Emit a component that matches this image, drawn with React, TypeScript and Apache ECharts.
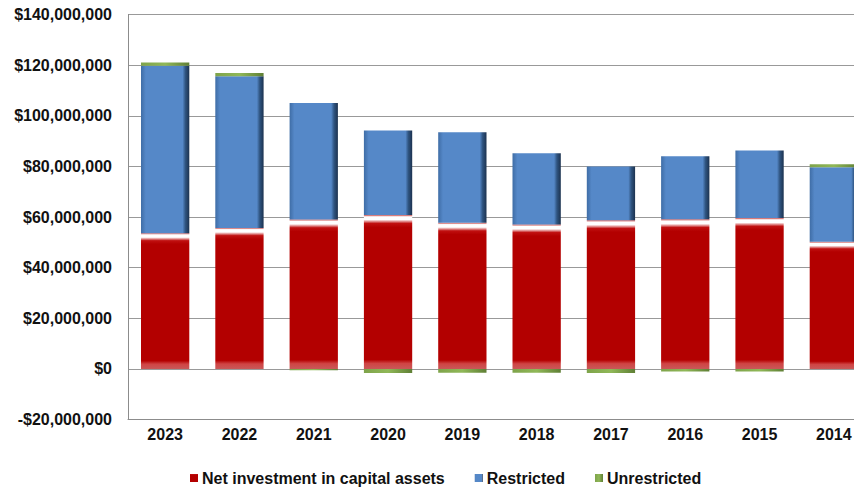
import React, { useEffect, useRef } from "react";
import * as echarts from "echarts";

const categories = ["2023", "2022", "2021", "2020", "2019", "2018", "2017", "2016", "2015", "2014"];
const netInvestment = [53600000, 55700000, 59000000, 60800000, 57700000, 57000000, 58700000, 59100000, 59600000, 50200000];
const restricted = [66200000, 59900000, 46000000, 33400000, 35800000, 28200000, 21300000, 24900000, 26700000, 29500000];
const unrestricted = [1200000, 1300000, -500000, -1600000, -1500000, -1500000, -1600000, -1000000, -1000000, 1100000];
const yMin = -20000000;
const yMax = 140000000;
const yStep = 20000000;

function fmtMoney(v: number): string {
  const abs = Math.abs(v).toString().replace(/\B(?=(\d{3})+(?!\d))/g, ",");
  return (v < 0 ? "-$" : "$") + abs;
}

const FONT = "'Liberation Sans', Arial, sans-serif";

export default function App() {
  const ref = useRef<HTMLDivElement>(null);
  useEffect(() => {
    document.body.style.margin = "0";
    if (!ref.current) return;
    const chart = echarts.init(ref.current, undefined, { renderer: "svg" });
    const redFill = new echarts.graphic.LinearGradient(0, 0, 0, 1, [
      { offset: 0, color: "#c94a4a" },
      { offset: 0.012, color: "#ffffff" },
      { offset: 0.03, color: "#ffffff" },
      { offset: 0.055, color: "#c01010" },
      { offset: 0.08, color: "#b30000" },
      { offset: 0.94, color: "#b30000" },
      { offset: 0.965, color: "#d04444" },
      { offset: 1, color: "#c85858" },
    ]);
    const blueFill = new echarts.graphic.LinearGradient(0, 0, 1, 0, [
      { offset: 0, color: "#3f6da6" },
      { offset: 0.1, color: "#5588c8" },
      { offset: 0.86, color: "#5588c8" },
      { offset: 0.92, color: "#2f5480" },
      { offset: 1, color: "#1c324f" },
    ]);
    const greenFill = new echarts.graphic.LinearGradient(0, 0, 1, 0, [
      { offset: 0, color: "#7ea34a" },
      { offset: 0.5, color: "#90b858" },
      { offset: 1, color: "#5f7f35" },
    ]);
    chart.setOption({
      animation: false,
      backgroundColor: "#ffffff",
      grid: {
        left: 128,
        width: 743,
        top: 14.5,
        bottom: 67.5,
        containLabel: false,
        outerBoundsMode: "none",
      },
      legend: {
        left: 190,
        top: 470,
        padding: 0,
        itemWidth: 8,
        itemHeight: 8,
        itemGap: 30,
        icon: "rect",
        data: ["Net investment in capital assets", "Restricted", "Unrestricted"],
        textStyle: { fontFamily: FONT, fontSize: 16, fontWeight: "bold", color: "#111111", lineHeight: 16, padding: [0, 0, 0, -1] },
      },
      xAxis: {
        type: "category",
        data: categories,
        axisLine: { onZero: false, lineStyle: { color: "#8c8c8c", width: 1 } },
        axisTick: { show: false },
        axisLabel: { fontFamily: FONT, fontSize: 16, fontWeight: "bold", color: "#111111", margin: 7 },
        splitLine: { show: false },
      },
      yAxis: {
        type: "value",
        min: yMin,
        max: yMax,
        interval: yStep,
        axisLine: { show: true, lineStyle: { color: "#8c8c8c", width: 1 } },
        axisTick: { show: false },
        axisLabel: {
          fontFamily: FONT,
          fontSize: 16,
          fontWeight: "bold",
          color: "#111111",
          margin: 16,
          formatter: (v: number) => fmtMoney(v),
        },
        splitLine: { show: true, lineStyle: { color: "#999999", width: 1 } },
      },
      series: [
        {
          name: "Net investment in capital assets",
          type: "bar",
          stack: "total",
          data: netInvestment,
          barCategoryGap: "35%",
          itemStyle: { color: redFill },
        },
        {
          name: "Restricted",
          type: "bar",
          stack: "total",
          data: restricted,
          itemStyle: { color: blueFill },
        },
        {
          name: "Unrestricted",
          type: "bar",
          stack: "total",
          data: unrestricted,
          itemStyle: { color: greenFill },
        },
      ],
    });
    return () => chart.dispose();
  }, []);
  return <div ref={ref} style={{ width: 854, height: 487 }} />;
}
